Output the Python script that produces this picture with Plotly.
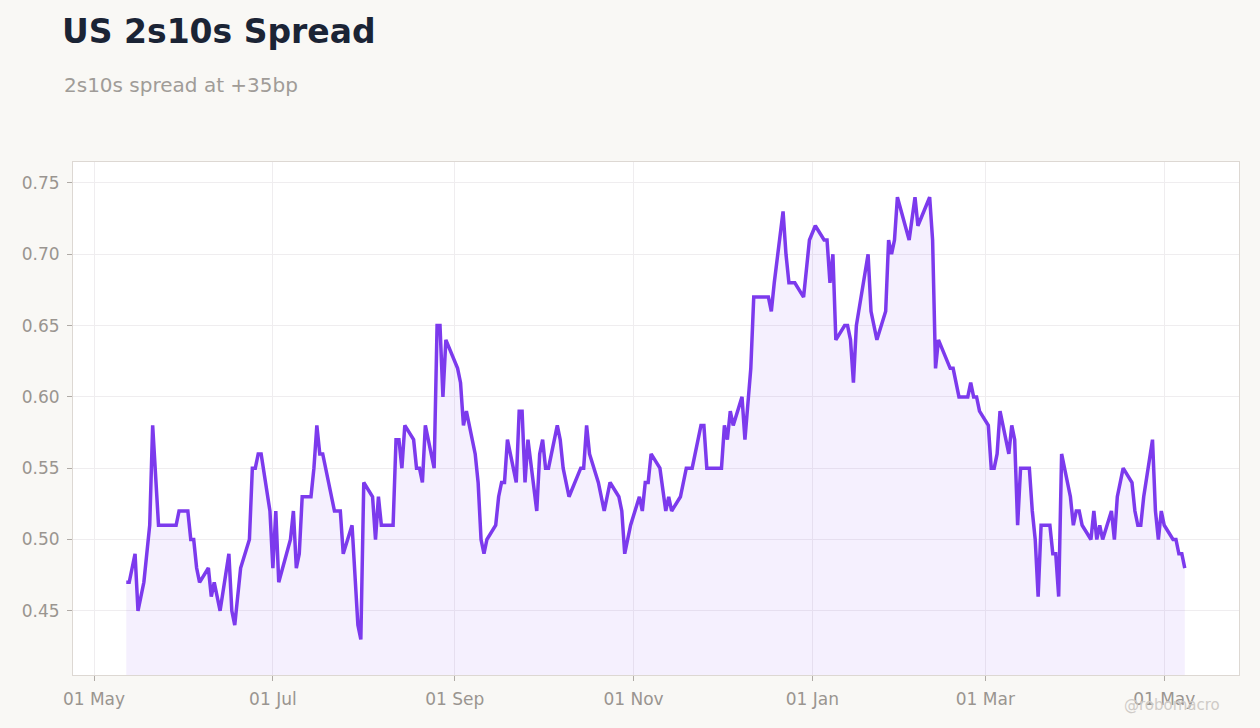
import pandas as pd
import plotly.graph_objects as go

START_DATE = "2024-05-01"

# days after START_DATE of each vertex of the line
day_offset = [
    11, 12, 14, 15, 17, 18, 19, 20, 21, 22, 28, 29, 32, 33, 34, 35, 36, 39, 40, 41,
    43, 46, 47, 48, 50, 53, 54, 55, 56, 57, 60, 61, 62, 63, 67, 68, 69, 70, 71, 74,
    75, 76, 77, 78, 82, 84, 85, 88, 90, 91, 92, 95, 96, 97, 98, 102, 103, 104, 105, 106,
    109, 110, 111, 112, 113, 116, 117, 118, 119, 120, 124, 125, 126, 127, 130, 131, 132, 133, 134, 137,
    138, 139, 140, 141, 144, 145, 146, 147, 148, 151, 152, 153, 154, 155, 158, 159, 160, 162, 166, 167,
    168, 169, 172, 174, 176, 179, 180, 181, 183, 186, 187, 188, 189, 190, 193, 195, 196, 197, 200, 202,
    204, 207, 208, 209, 214, 215, 216, 217, 218, 221, 222, 224, 225, 230, 231, 232, 235, 236, 237, 239,
    242, 244, 246, 249, 250, 251, 252, 253, 256, 257, 258, 259, 260, 264, 265, 267, 270, 271, 272, 273,
    274, 278, 280, 281, 285, 286, 287, 288, 292, 293, 295, 298, 299, 300, 301, 302, 305, 306, 307, 308,
    309, 312, 313, 314, 315, 316, 319, 320, 321, 322, 323, 326, 327, 328, 329, 330, 333, 334, 335, 336,
    337, 340, 341, 342, 343, 344, 347, 348, 349, 351, 354, 355, 356, 357, 358, 361, 362, 363, 364, 365,
    368, 369, 370, 371, 372,
]

spread = [
    0.47, 0.47, 0.49, 0.45, 0.47, 0.49, 0.51, 0.58, 0.54, 0.51, 0.51, 0.52, 0.52, 0.50, 0.50, 0.48, 0.47, 0.48, 0.46, 0.47,
    0.45, 0.49, 0.45, 0.44, 0.48, 0.50, 0.55, 0.55, 0.56, 0.56, 0.52, 0.48, 0.52, 0.47, 0.50, 0.52, 0.48, 0.49, 0.53, 0.53,
    0.55, 0.58, 0.56, 0.56, 0.52, 0.52, 0.49, 0.51, 0.44, 0.43, 0.54, 0.53, 0.50, 0.53, 0.51, 0.51, 0.57, 0.57, 0.55, 0.58,
    0.57, 0.55, 0.55, 0.54, 0.58, 0.55, 0.65, 0.65, 0.60, 0.64, 0.62, 0.61, 0.58, 0.59, 0.56, 0.54, 0.50, 0.49, 0.50, 0.51,
    0.53, 0.54, 0.54, 0.57, 0.54, 0.59, 0.59, 0.54, 0.57, 0.52, 0.56, 0.57, 0.55, 0.55, 0.58, 0.57, 0.55, 0.53, 0.55, 0.55,
    0.58, 0.56, 0.54, 0.52, 0.54, 0.53, 0.52, 0.49, 0.51, 0.53, 0.52, 0.54, 0.54, 0.56, 0.55, 0.52, 0.53, 0.52, 0.53, 0.55,
    0.55, 0.58, 0.58, 0.55, 0.55, 0.58, 0.57, 0.59, 0.58, 0.60, 0.57, 0.62, 0.67, 0.67, 0.66, 0.68, 0.73, 0.70, 0.68, 0.68,
    0.67, 0.71, 0.72, 0.71, 0.71, 0.68, 0.70, 0.64, 0.65, 0.65, 0.64, 0.61, 0.65, 0.70, 0.66, 0.64, 0.66, 0.71, 0.70, 0.71,
    0.74, 0.71, 0.74, 0.72, 0.74, 0.71, 0.62, 0.64, 0.62, 0.62, 0.60, 0.60, 0.61, 0.60, 0.60, 0.59, 0.58, 0.55, 0.55, 0.56,
    0.59, 0.56, 0.58, 0.57, 0.51, 0.55, 0.55, 0.52, 0.50, 0.46, 0.51, 0.51, 0.49, 0.49, 0.46, 0.56, 0.53, 0.51, 0.52, 0.52,
    0.51, 0.50, 0.52, 0.50, 0.51, 0.50, 0.52, 0.50, 0.53, 0.55, 0.54, 0.52, 0.51, 0.51, 0.53, 0.57, 0.52, 0.50, 0.52, 0.51,
    0.50, 0.50, 0.49, 0.49, 0.48,
]

TITLE = "US 2s10s Spread"
SUBTITLE = "2s10s spread at +35bp"
WATERMARK = "@robomacro"
Y_TICKS = [0.45, 0.50, 0.55, 0.60, 0.65, 0.70, 0.75]
X_RANGE = ["2024-04-23 20:00", "2025-05-26 12:00"]
Y_RANGE = [0.405, 0.7647]

dates = pd.Timestamp(START_DATE) + pd.to_timedelta(day_offset, unit="D")

LINE = "#7c3aed"
GRID = "#efedef"
AXIS = "#ddd8d3"
TICKTXT = "#9a9590"
FONT = "DejaVu Sans"

fig = go.Figure()
fig.add_trace(go.Scatter(
    x=dates, y=spread, mode="lines",
    line=dict(color=LINE, width=3.5),
    fill="tozeroy", fillcolor="rgba(124,58,237,0.08)",
    hoverinfo="x+y", showlegend=False,
))

fig.update_layout(
    width=1260, height=728,
    margin=dict(l=73, r=21, t=162, b=53),
    paper_bgcolor="#f9f8f5",
    plot_bgcolor="#ffffff",
    font=dict(family=FONT, color=TICKTXT, size=17),
    title=dict(text="<b>" + TITLE + "</b>", x=62 / 1260, xref="container", xanchor="left",
               y=1 - 31 / 728, yref="container", yanchor="middle",
               font=dict(family=FONT, size=33, color="#1b2435")),
    annotations=[
        dict(text=SUBTITLE, xref="paper", yref="paper", x=(62 - 73) / 1166, y=(675 - 85) / 513,
             xanchor="left", yanchor="middle", showarrow=False,
             font=dict(family=FONT, size=20, color="#a09c98")),
        dict(text=WATERMARK, xref="paper", yref="paper", x=(1172 - 73) / 1166, y=(675 - 705) / 513,
             xanchor="center", yanchor="middle", showarrow=False,
             font=dict(family=FONT, size=15, color="#cfcbc7")),
    ],
    xaxis=dict(
        type="date", range=X_RANGE, tickformat="%d %b", dtick="M2", tick0="2024-05-01",
        showgrid=True, gridcolor=GRID, gridwidth=1,
        showline=True, linecolor=AXIS, linewidth=1, mirror=True,
        ticks="outside", ticklen=5, tickcolor="#b0aba6", ticklabelstandoff=4,
        tickfont=dict(size=17, color=TICKTXT), zeroline=False,
    ),
    yaxis=dict(
        range=Y_RANGE, tickvals=Y_TICKS, tickformat=".2f",
        showgrid=True, gridcolor=GRID, gridwidth=1,
        showline=True, linecolor=AXIS, linewidth=1, mirror=True,
        ticks="outside", ticklen=5, tickcolor="#b0aba6", ticklabelstandoff=4,
        tickfont=dict(size=17, color=TICKTXT), zeroline=False,
    ),
)

fig.write_html("out.html")
